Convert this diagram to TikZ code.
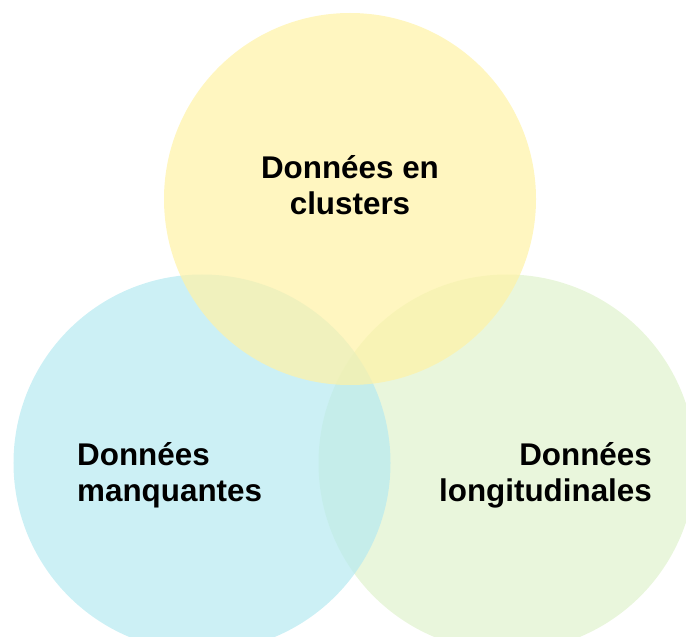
\documentclass[tikz,border=0pt]{standalone}
\usepackage{fontspec}
\setmainfont{Liberation Sans}
\usepackage{tikz}

\definecolor{jauneC}{RGB}{255,242,165}
\definecolor{bleuC}{RGB}{182,234,241}
\definecolor{vertC}{RGB}{224,242,205}

\begin{document}
\begin{tikzpicture}[x=1bp,y=-1bp,
    rond/.style={circle, inner sep=0pt, minimum size=377bp, fill opacity=0.7},
    etiq/.style={font=\bfseries\fontsize{31.5}{36}\selectfont, text=black, inner sep=0pt}]
        \useasboundingbox (0,0) rectangle (686,637);
        \node[rond, fill=vertC] (vert) at (507,463) {};
        \node[rond, fill=bleuC] (bleu) at (202,463) {};
        \node[rond, fill=jauneC, minimum size=372bp] (jaune) at (350,199) {};
        \node[etiq, align=center] (clusters) at (350,185) {Données en\\clusters};
        \node[etiq, align=left, anchor=west] (manq) at (77,475) {Données\\manquantes};
        \node[etiq, align=right, anchor=east] (longi) at (652,475) {Données\\longitudinales};
    \end{tikzpicture}
\end{document}
